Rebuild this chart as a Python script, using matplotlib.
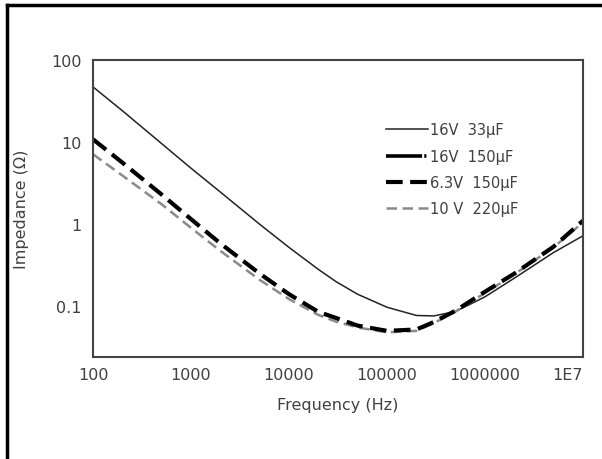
import matplotlib.pyplot as plt
from matplotlib.lines import Line2D

# Impedance curves
freq = [100, 200, 500, 1e3, 2e3, 5e3, 1e4, 2e4, 3e4, 5e4, 1e5, 2e5, 3e5, 5e5, 1e6, 2e6, 5e6, 1e7]
z_16v_33 = [47, 24, 9.6, 4.8, 2.45, 1.0, 0.52, 0.28, 0.20, 0.14, 0.097, 0.077, 0.076, 0.086, 0.13, 0.22, 0.45, 0.72]
z_63v_150 = [10.8, 5.6, 2.3, 1.15, 0.58, 0.25, 0.14, 0.085, 0.072, 0.058, 0.050, 0.052, 0.064, 0.088, 0.15, 0.25, 0.53, 1.1]
z_10v_220 = [7.1, 3.9, 1.75, 0.90, 0.47, 0.21, 0.122, 0.078, 0.065, 0.055, 0.048, 0.050, 0.062, 0.086, 0.145, 0.245, 0.52, 1.05]

xticks = [100, 1000, 10000, 100000, 1000000, 1e7]
xtick_labels = ["100", "1000", "10000", "100000", "1000000", "1E7"]
yticks = [0.1, 1, 10, 100]
ytick_labels = ["0.1", "1", "10", "100"]

plt.rcParams["font.family"] = ["DejaVu Sans"]
txt = "#404040"

fig = plt.figure(figsize=(6.02, 4.6), dpi=100)
ax = fig.add_axes([0.1545, 0.2217, 0.8139, 0.6457])

ax.plot(freq, z_16v_33, color="#222222", lw=1.1, label="16V  33µF")
ax.plot(freq, z_10v_220, color="#8a8a8a", lw=1.8, dashes=(4.2, 2.2), label="10 V  220µF")
ax.plot(freq, z_63v_150, color="black", lw=3.0, dashes=(4.0, 1.8), label="6.3V  150µF")

ax.set_xscale("log")
ax.set_yscale("log")
ax.set_xlim(100, 1e7)
ax.set_ylim(0.024, 100)
ax.set_xticks(xticks)
ax.set_xticklabels(xtick_labels)
ax.set_yticks(yticks)
ax.set_yticklabels(ytick_labels)
ax.minorticks_off()
ax.tick_params(axis="y", length=0, pad=8, labelsize=11.5, labelcolor=txt)
ax.tick_params(axis="x", length=0, pad=7, labelsize=11.5, labelcolor=txt)
ax.get_xticklabels()[-1].set_ha("right")
for s in ax.spines.values():
    s.set_color("#444444")
    s.set_linewidth(1.5)

ax.set_xlabel("Frequency (Hz)", fontsize=11.5, color=txt, labelpad=11)
ax.set_ylabel("Impedance (Ω)", fontsize=11.5, color=txt, labelpad=16)

# legend order as in the reference; the 16V 150µF curve is not visible in the plot
h = {l.get_label(): l for l in ax.get_lines()}
proxy = Line2D([], [], color="black", lw=2.6, dashes=(10, 0.6, 0.6, 0.6, 0.6, 0.6))
handles = [h["16V  33µF"], proxy, h["6.3V  150µF"], h["10 V  220µF"]]
labels = ["16V  33µF", "16V  150µF", "6.3V  150µF", "10 V  220µF"]
ax.legend(handles, labels, loc="upper left", bbox_to_anchor=(0.583, 0.815), frameon=False,
          fontsize=10.5, labelcolor=txt, handlelength=2.9, handletextpad=0.15,
          labelspacing=0.78, borderpad=0)

# outer frame: left and top edges
fig.add_artist(Line2D([0.012, 0.012], [0, 0.988], color="black", lw=2.5))
fig.add_artist(Line2D([0.012, 1.0], [0.988, 0.988], color="black", lw=2.5))

fig.savefig("out.png", dpi=100)
